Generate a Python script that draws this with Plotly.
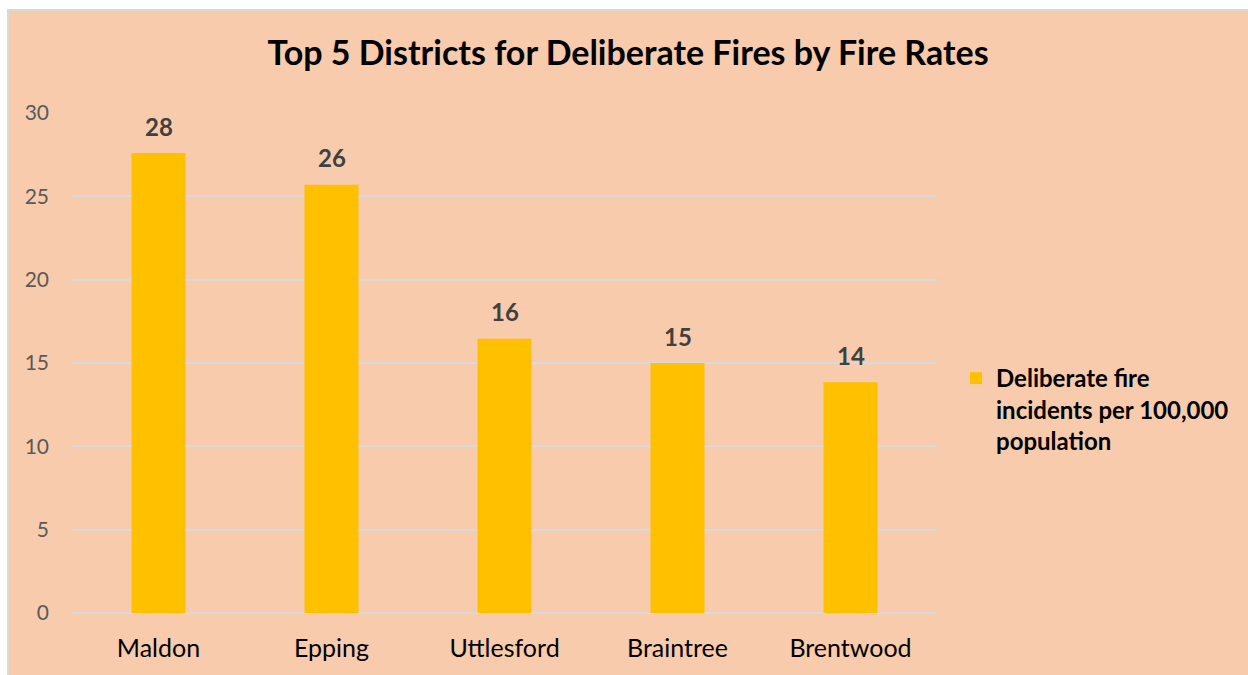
import plotly.graph_objects as go

# Deliberate fire incidents per 100,000 population, top five districts
districts = ["Maldon", "Epping", "Uttlesford", "Braintree", "Brentwood"]
rates = [27.6, 25.7, 16.45, 15.0, 13.85]
series_name = "Deliberate fire<br>incidents per 100,000<br>population"
y_ticks = [0, 5, 10, 15, 20, 25, 30]

PEACH = "#F8CBAD"
GOLD = "#FFC000"
GRID = "#D9D9D9"
FONT = "Lato"

W, H = 1248, 675
L, R, T, B = 72, 311, 113, 62
pw, ph = W - L - R, H - T - B


def px_x(p):
    return (p - L) / pw


def px_y(p):
    return (H - B - p) / ph


fig = go.Figure()
fig.add_trace(go.Bar(
    x=districts, y=rates, name=series_name,
    marker=dict(color=GOLD, line=dict(width=0)),
    hoverinfo="x+y",
))

# rounded value labels above each bar
for d, v in zip(districts, rates):
    fig.add_annotation(
        x=d, y=v, text=f"<b>{round(v):d}</b>", showarrow=False,
        yshift=27, font=dict(family=FONT, size=24, color="#404040"),
    )

# chart frame: peach panel with a light grey edge on the top/left
fig.add_shape(
    type="rect", xref="paper", yref="paper", layer="below",
    x0=px_x(8), x1=px_x(W + 20), y0=px_y(H + 20), y1=px_y(10),
    fillcolor=PEACH, line=dict(color=GRID, width=2),
)

fig.update_layout(
    width=W, height=H,
    margin=dict(l=L, r=R, t=T, b=B, pad=0),
    paper_bgcolor="white", plot_bgcolor="rgba(0,0,0,0)",
    title=dict(
        text="<b>Top 5 Districts for Deliberate Fires by Fire Rates</b>",
        x=px_x(628), xanchor="center", xref="paper",
        y=1 - 53 / H, yanchor="middle",
        font=dict(family=FONT, size=34, color="#000000"),
    ),
    bargap=0.688,
    showlegend=True,
    legend=dict(
        x=px_x(956), y=px_y(356), xanchor="left", yanchor="top",
        bgcolor="rgba(0,0,0,0)", valign="top",
        font=dict(family=FONT, size=24, color="#000000", weight="bold"),
        itemwidth=30,
    ),
    xaxis=dict(
        showgrid=False, zeroline=False, showline=False, ticks="",
        tickfont=dict(family=FONT, size=25, color="#000000"),
        ticklabelstandoff=18,
    ),
    yaxis=dict(
        range=[0, 30], tickvals=y_ticks, showgrid=True, gridcolor=GRID,
        gridwidth=1.5, zeroline=True, zerolinecolor=GRID, zerolinewidth=1.5,
        showline=False, ticks="",
        tickfont=dict(family=FONT, size=21, color="#595959"),
        ticklabelstandoff=22,
    ),
)

fig.write_html("out.html")
